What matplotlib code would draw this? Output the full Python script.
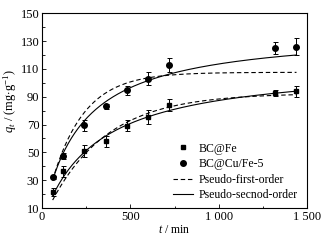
import numpy as np
import matplotlib
matplotlib.use("Agg")
import matplotlib.pyplot as plt
from matplotlib.lines import Line2D
from matplotlib.ticker import MultipleLocator, FuncFormatter

plt.rcParams["font.family"] = ["Liberation Serif", "DejaVu Serif"]
plt.rcParams["mathtext.fontset"] = "custom"
plt.rcParams["mathtext.rm"] = "Liberation Serif"
plt.rcParams["mathtext.it"] = "Liberation Serif:italic"

# temps de contact (min)
t_data = [60, 120, 240, 360, 480, 600, 720, 1320, 1440]
q_fe = [21.5, 36.5, 51, 58, 69, 75.5, 84, 92.5, 94]
err_fe = [3, 4, 4.5, 4, 4, 5, 4, 2, 4]
q_cufe = [32, 47.5, 69.5, 83, 94.5, 103, 113, 125, 126]
err_cufe = [1, 2, 4, 2, 3, 4.5, 5, 4, 6]

# parametres des modeles cinetiques (qe, k)
pfo_fe = (92.5, 0.0031)
pfo_cufe = (107.5, 0.0055)
pso_fe = (113.8, 0.00329 / 113.8)
pso_cufe = (137.8, 0.00467 / 137.8)


def pfo(t, qe, k):
    return qe * (1 - np.exp(-k * t))


def pso(t, qe, k):
    return qe ** 2 * k * t / (1 + qe * k * t)


t_fit = np.linspace(60, 1440, 300)

fig = plt.figure(figsize=(3.26, 2.44), dpi=100)
ax = fig.add_axes([0.129, 0.1475, 0.813, 0.7985])

lw = 0.8
ax.errorbar(t_data, q_fe, yerr=err_fe, fmt="s", color="black", ms=3.5,
            elinewidth=0.7, capsize=1.8, capthick=0.7)
ax.errorbar(t_data, q_cufe, yerr=err_cufe, fmt="o", color="black", ms=4,
            elinewidth=0.7, capsize=1.8, capthick=0.7)
ax.plot(t_fit, pfo(t_fit, *pfo_fe), "--", color="black", lw=lw, dashes=(4, 2.5))
ax.plot(t_fit, pfo(t_fit, *pfo_cufe), "--", color="black", lw=lw, dashes=(4, 2.5))
ax.plot(t_fit, pso(t_fit, *pso_fe), "-", color="black", lw=lw)
ax.plot(t_fit, pso(t_fit, *pso_cufe), "-", color="black", lw=lw)

ax.set_xlim(0, 1500)
ax.set_ylim(10, 150)
ax.xaxis.set_major_locator(MultipleLocator(500))
ax.xaxis.set_minor_locator(MultipleLocator(250))
ax.yaxis.set_minor_locator(MultipleLocator(10))
ax.set_yticks([10, 30, 50, 70, 90, 110, 130, 150])
ax.xaxis.set_major_formatter(FuncFormatter(
    lambda v, p: f"{int(v):,}".replace(",", " ")))
ax.tick_params(direction="in", which="both", labelsize=9, top=False,
               right=False, length=3, width=0.6, pad=2)
ax.tick_params(which="minor", length=1.8)
for s in ax.spines.values():
    s.set_linewidth(0.8)

ax.set_xlabel("$t$ / min", fontsize=8.5, labelpad=1)
ax.set_ylabel("$q_t$ / (mg$\\cdot$g$^{-1}$)", fontsize=9)
ax.yaxis.set_label_coords(-0.088, 0.548)

handles = [
    Line2D([], [], ls="none", marker="s", color="black", ms=3.5),
    Line2D([], [], ls="none", marker="o", color="black", ms=4),
    Line2D([], [], ls="--", color="black", lw=lw, dashes=(4, 2.5)),
    Line2D([], [], ls="-", color="black", lw=lw),
]
labels = ["BC@Fe", "BC@Cu/Fe-5", "Pseudo-first-order", "Pseudo-secnod-order"]
ax.legend(handles, labels, loc="lower right", bbox_to_anchor=(0.965, 0.035),
          frameon=False, fontsize=8.5, handlelength=1.7, handletextpad=0.5,
          labelspacing=0.3, borderpad=0, borderaxespad=0)

fig.savefig("out.png", dpi=100)
